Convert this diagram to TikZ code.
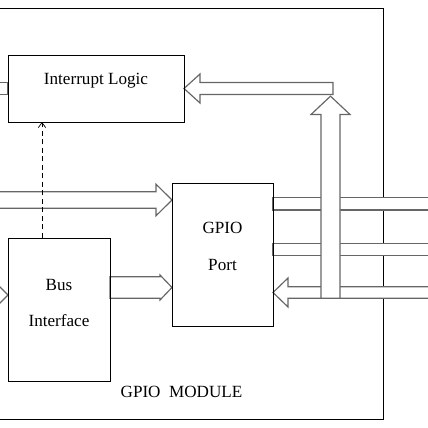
\documentclass[tikz,border=0pt]{standalone}
\usepackage{fontspec}
\setmainfont{Liberation Serif}
\usetikzlibrary{arrows.meta,calc}
\pgfdeclarelayer{back}
\pgfdeclarelayer{buses}
\pgfsetlayers{back,buses,main}

\begin{document}
\begin{tikzpicture}[x=0.03cm, y=-0.03cm]

	\tikzstyle{box}=[rectangle, draw, line width=0.8pt, inner sep=0pt, outer sep=0pt]
	\tikzstyle{lbl}=[anchor=base, inner sep=0pt, align=center, font=\fontsize{14.6}{17.5}\selectfont]
	\tikzstyle{bus}=[draw=black!60, line width=1pt, fill=white]
	\tikzstyle{req}=[draw, line width=0.6pt, dash pattern=on 0.15cm off 0.105cm, -{Straight Barb[length=0.15cm, width=0.22cm]}]
	\tikzset{
		% hollow block arrow: #1 half shaft, #2 half head, #3 head length
		blockarrow/.style n args={3}{to path={
			($(\tikztostart)!#1!90:(\tikztotarget)$)
			-- ($(\tikztotarget)!#3!(\tikztostart)!#1!-90:(\tikztostart)$)
			-- ($(\tikztotarget)!#3!(\tikztostart)!#2!-90:(\tikztostart)$)
			-- (\tikztotarget)
			-- ($(\tikztotarget)!#3!(\tikztostart)!#2!90:(\tikztostart)$)
			-- ($(\tikztotarget)!#3!(\tikztostart)!#1!90:(\tikztostart)$)
			-- ($(\tikztostart)!#1!-90:(\tikztotarget)$)
			-- cycle}},
		% plain bus without head
		busline/.style={to path={
			($(\tikztostart)!#1!90:(\tikztotarget)$)
			-- ($(\tikztotarget)!#1!-90:(\tikztostart)$)
			-- ($(\tikztotarget)!#1!90:(\tikztostart)$)
			-- ($(\tikztostart)!#1!-90:(\tikztotarget)$)
			-- cycle}}
	}

	\useasboundingbox (0,0) rectangle (428,428);

	\node[box, minimum width=5.28cm, minimum height=2.01cm] (intr) at (96,88.5) {};
	\node[box, minimum width=3.03cm, minimum height=4.29cm] (gpio) at (222.5,254.5) {};
	\node[box, minimum width=3.06cm, minimum height=4.29cm] (busif) at (59,309.5) {};

	\node[lbl] (intrlbl) at (96,85) {Interrupt Logic};
	\node[lbl] (gpiolbl) at (222.5,270) {GPIO\\[13.5pt]Port};
	\node[lbl] (buslbl) at (59,326) {Bus\\[13pt]Interface};
	\node[lbl] (modlbl) at (181.5,397) {GPIO~ MODULE};

	\begin{pgfonlayer}{back}
		\node[box, minimum width=12.09cm, minimum height=12.33cm] (module) at (181.5,213.5) {};
	\end{pgfonlayer}

	% bus end points
	\coordinate (irqfar) at ([xshift=-0.84cm]intr.west);
	\coordinate (gpioin) at ([yshift=1.635cm]gpio.west);
	\coordinate (leftin) at (irqfar |- gpioin);
	\coordinate (bus2port) at ([yshift=0.66cm]busif.east);
	\coordinate (portin) at (gpio.west |- bus2port);
	\coordinate (busin) at ([yshift=0.435cm]busif.west);
	\coordinate (busfar) at (irqfar |- busin);
	\coordinate (irqsrc) at ([xshift=4.47cm]intr.east);
	\coordinate (out1) at ([yshift=1.52cm]gpio.east);
	\coordinate (out1far) at ([xshift=5cm]out1);
	\coordinate (out2) at ([yshift=0.15cm]gpio.east);
	\coordinate (out2far) at ([xshift=5cm]out2);
	\coordinate (pin) at ([yshift=-1.14cm]gpio.east);
	\coordinate (pinfar) at ([xshift=5cm]pin);
	\coordinate (vbot) at ([xshift=1.725cm, yshift=-0.174cm]pin);
	\coordinate (vmid) at (vbot |- irqsrc);
	\coordinate (vtop) at ([yshift=-0.23cm]vmid);
	\coordinate (irqreq) at ([xshift=-0.51cm]busif.north);

	\begin{pgfonlayer}{buses}
		\draw[bus, busline=0.174cm] (intr.west) to (irqfar);
		\draw[bus, blockarrow={0.249cm}{0.474cm}{0.48cm}] (leftin) to (gpioin);
		\draw[bus, blockarrow={0.2cm}{0.36cm}{0.36cm}] (busfar) to (busin);
		\draw[bus, blockarrow={0.324cm}{0.375cm}{0.36cm}] (bus2port) to (portin);
		\draw[bus, blockarrow={0.18cm}{0.435cm}{0.48cm}] (irqsrc) to (intr.east);
		\draw[bus, busline=0.185cm] (out1) to (out1far);
		\draw[bus, busline=0.19cm] (out2) to (out2far);
		\draw[bus, blockarrow={0.174cm}{0.435cm}{0.45cm}] (pinfar) to (pin);
		\draw[bus, blockarrow={0.285cm}{0.585cm}{0.55cm}] (vbot) to (vtop);
	\end{pgfonlayer}

	\draw[req] (irqreq) -- (irqreq |- intr.south);

\end{tikzpicture}
\end{document}
